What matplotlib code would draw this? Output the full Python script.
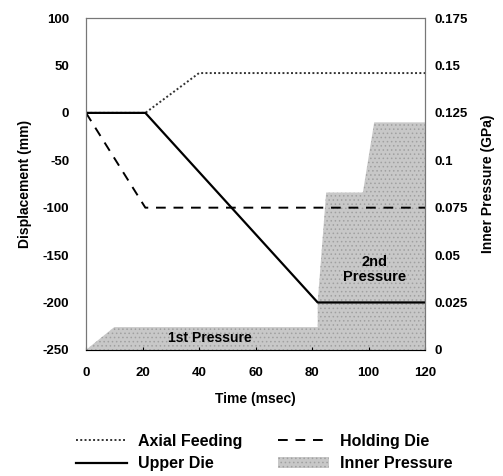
#!/usr/bin/env python3
"""Displacement of dies and inner pressure vs time (recreated chart)."""

import matplotlib
matplotlib.use("Agg")
import matplotlib.pyplot as plt
from matplotlib.ticker import FuncFormatter

plt.rcParams["font.family"] = ["Liberation Sans", "DejaVu Sans"]
plt.rcParams["font.weight"] = "bold"
plt.rcParams["axes.unicode_minus"] = False
plt.rcParams["hatch.linewidth"] = 0.6

# ============ Data ============
axial_t = [0, 21, 40, 120]
axial_d = [0, 0, 42, 42]

upper_t = [0, 21, 82, 120]
upper_d = [0, 0, -200, -200]

holding_t = [0, 21, 120]
holding_d = [0, -100, -100]

press_t = [0, 10, 82, 82, 85, 98, 102, 120]
press_p = [0, 0.012, 0.012, 0.025, 0.083, 0.083, 0.12, 0.12]

x_ticks = [0, 20, 40, 60, 80, 100, 120]
y_ticks = [100, 50, 0, -50, -100, -150, -200, -250]
p_ticks = [0, 0.025, 0.05, 0.075, 0.1, 0.125, 0.15, 0.175]

# ============ Figure ============
fig = plt.figure(figsize=(5.03, 4.76), dpi=100)
ax = fig.add_axes([0.171, 0.265, 0.674, 0.697])
ax2 = ax.twinx()

# pressure area sits behind the displacement lines
ax.set_zorder(ax2.get_zorder() + 1)
ax.patch.set_visible(False)

ax2.fill_between(press_t, press_p, 0, facecolor="#c8c8c8", edgecolor="#a0a0a0",
                 hatch="....", linewidth=0, label="Inner Pressure")
ax2.set_ylim(0, 0.175)
ax2.set_yticks(p_ticks)
ax2.yaxis.set_major_formatter(FuncFormatter(lambda v, _: f"{v:g}"))
ax2.set_ylabel("Inner Pressure (GPa)", fontsize=10, fontweight="bold", labelpad=9)

l1, = ax.plot(axial_t, axial_d, color="#333333", lw=1.4, ls=(0, (1, 1.2)),
              label="Axial Feeding")
l2, = ax.plot(upper_t, upper_d, color="black", lw=1.6, label="Upper Die")
l3, = ax.plot(holding_t, holding_d, color="black", lw=1.4, ls=(0, (5, 4)),
              label="Holding Die")

ax.set_xlim(0, 120)
ax.set_ylim(-250, 100)
ax.set_xticks(x_ticks)
ax.set_yticks(y_ticks)
ax.set_xlabel("Time (msec)", fontsize=10, fontweight="bold", labelpad=10)
ax.set_ylabel("Displacement (mm)", fontsize=10, fontweight="bold", labelpad=8)

for a in (ax, ax2):
    for s in a.spines.values():
        s.set_linestyle((0, (1, 1)))
        s.set_color("#777777")
        s.set_linewidth(0.8)
    a.tick_params(labelsize=9.5, length=0, pad=7)
ax.tick_params(axis="y", pad=12)
ax.spines["bottom"].set_linestyle("-")
ax.spines["bottom"].set_color("black")
ax.tick_params(axis="x", direction="in", length=2, pad=12)

ax.text(44, -238, "1st Pressure", fontsize=10, fontweight="bold",
        ha="center", va="center")
ax.text(102, -165, "2nd\nPressure", fontsize=10.5, fontweight="bold",
        ha="center", va="center", linespacing=1.1)

handles = [l1, l2, l3, ax2.collections[0]]
labels = ["Axial Feeding", "Upper Die", "Holding Die", "Inner Pressure"]
fig.legend(handles, labels,
           loc="lower center", bbox_to_anchor=(0.525, -0.02), ncol=2,
           frameon=False, fontsize=11.5, handlelength=3.2, handletextpad=0.7,
           columnspacing=2.2, labelspacing=0.45)

fig.savefig("out.png", dpi=100)
